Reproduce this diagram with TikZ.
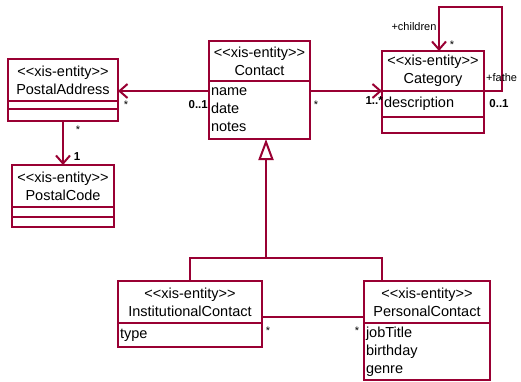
\documentclass[tikz,border=0pt]{standalone}
\usepackage{fontspec}
\setmainfont{Liberation Sans}[Ligatures=TeXOff]
\usetikzlibrary{arrows.meta}

\definecolor{umlred}{RGB}{153,0,51}
\newcommand{\entityfont}{\fontsize{14.5}{18}\selectfont}
\newcommand{\roleFont}{\fontsize{11}{13}\selectfont}
\newcommand{\multFont}{\fontsize{11.5}{13}\selectfont\bfseries}

\tikzset{
	entity/.style={draw=umlred, line width=2pt, fill=white, anchor=north west, inner sep=0pt, outer sep=0pt, font=\entityfont},
	head/.style={entity, align=center},
	attrs/.style={entity, align=left, inner xsep=2pt, inner ysep=0pt},
	assoc/.style={draw=umlred, line width=2pt},
	nav/.style={assoc, -{Straight Barb[length=8pt, width=14pt, line width=2pt]}},
	gen/.style={assoc, -{Triangle[open, length=21pt, width=15pt, line width=2pt]}},
	mult/.style={font=\multFont, inner sep=0pt},
	star/.style={font=\roleFont, inner sep=0pt},
	role/.style={font=\roleFont, inner sep=0pt},
}

\begin{document}
\begin{tikzpicture}[x=1pt, y=-1pt]
		\useasboundingbox (0,0) rectangle (521,382);

		\node[head, minimum width=110pt, minimum height=42pt] (addrH) at (8,59) {<<xis-entity>>\\PostalAddress};
		\node[entity, minimum width=110pt, minimum height=8pt] (addrA) at (addrH.south west) {};
		\node[entity, minimum width=110pt, minimum height=12pt] (addrO) at (addrA.south west) {};

		\node[head, minimum width=102pt, minimum height=42pt] (codeH) at (12,165) {<<xis-entity>>\\PostalCode};
		\node[entity, minimum width=102pt, minimum height=10pt] (codeA) at (codeH.south west) {};
		\node[entity, minimum width=102pt, minimum height=10pt] (codeO) at (codeA.south west) {};

		\node[head, minimum width=101pt, minimum height=40pt] (contactH) at (209,41) {<<xis-entity>>\\Contact};
		\node[attrs, text width=97pt, minimum height=58pt] (contactA) at (contactH.south west) {name\\date\\notes};

		\node[head, minimum width=102pt, minimum height=40pt] (catH) at (382,51) {<<xis-entity>>\\Category};
		\node[attrs, text width=98pt, minimum height=26pt] (catA) at (catH.south west) {description};
		\node[entity, minimum width=102pt, minimum height=16pt] (catO) at (catA.south west) {};

		\node[head, minimum width=144pt, minimum height=42pt] (instH) at (118,281) {<<xis-entity>>\\InstitutionalContact};
		\node[attrs, text width=140pt, minimum height=24pt] (instA) at (instH.south west) {type};

		\node[head, minimum width=126pt, minimum height=42pt] (persH) at (364,281) {<<xis-entity>>\\PersonalContact};
		\node[attrs, text width=122pt, minimum height=57pt] (persA) at (persH.south west) {jobTitle\\birthday\\genre};

		\draw[nav] ([yshift=-10pt]contactA.north west) -- ([yshift=-11pt]addrH.east);
		\node[star] (mAddr) at (126,105) {*};
		\node[mult, anchor=east] (mContactL) at (208,105) {0..1};

		\draw[nav] ([yshift=-10pt]contactA.north east) -- (catH.south west);
		\node[star] (mContactR) at (316,105) {*};
		\node[mult, anchor=east] (mCat) at (383,101) {1..*};

		\draw[nav] (addrO.south) -- (codeH.north);
		\node[star] (mAddrB) at (78,130) {*};
		\node[mult] (mCode) at (77,157) {1};

		\coordinate (loopTop) at (502,7);
		\draw[nav] (catH.south east) -| (loopTop) -| ([xshift=6pt]catH.north);
		\node[role] (rChildren) at (414,27) {+children};
		\node[star] (mChildren) at (452,45) {*};
		\node[role, anchor=west] (rFather) at (486,78) {+fathe};
		\node[mult] (mFather) at (499,104) {0..1};

		\coordinate (fork) at (266,258);
		\draw[gen] (fork) -- (contactA.south -| fork);
		\draw[assoc] (instH.north) |- (fork) -| ([xshift=18pt]persH.north west);

		\draw[assoc] ([yshift=6pt]instH.south east) -- ([yshift=6pt]persH.south west);
		\node[star] (mInst) at (268,331) {*};
		\node[star] (mPers) at (357,331) {*};

	\end{tikzpicture}
\end{document}
